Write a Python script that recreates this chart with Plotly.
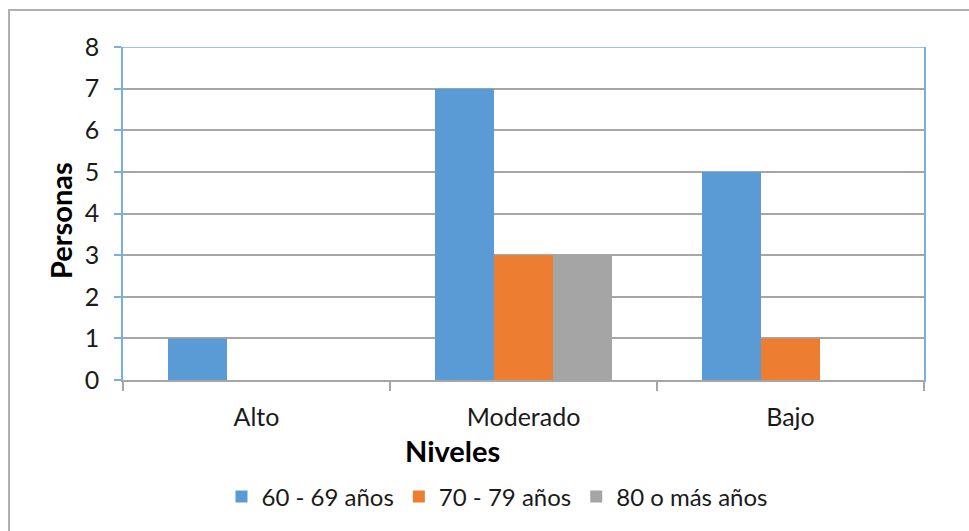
import plotly.graph_objects as go

# Categories and counts per age group
niveles = ["Alto", "Moderado", "Bajo"]
grupos = ["60 - 69 años", "70 - 79 años", "80 o más años"]
valores_60_69 = [1, 7, 5]
valores_70_79 = [0, 3, 1]
valores_80_mas = [0, 3, 0]
colores = ["#5B9BD5", "#ED7D31", "#A5A5A5"]
y_ticks = [0, 1, 2, 3, 4, 5, 6, 7, 8]

FONT = "Lato"
W, H = 969, 531
ML, MR, MT, MB = 123, 45, 47, 151
PW, PH = W - ML - MR, H - MT - MB

fig = go.Figure()
for nombre, vals, col in zip(grupos, [valores_60_69, valores_70_79, valores_80_mas], colores):
    fig.add_trace(go.Bar(x=niveles, y=vals, name=nombre, marker=dict(color=col, line=dict(width=0))))


def px_x(p):
    return (p - ML) / PW


def px_y(p):
    return (H - MB - p) / PH


fig.update_layout(
    width=W, height=H,
    margin=dict(l=ML, r=MR, t=MT, b=MB),
    paper_bgcolor="white", plot_bgcolor="white",
    barmode="group", bargap=0.337, bargroupgap=0,
    font=dict(family=FONT, size=25, color="#1a1a1a"),
    showlegend=True,
    legend=dict(orientation="h", x=px_x(497), xanchor="center", y=px_y(497), yanchor="middle",
                font=dict(size=24), itemwidth=30, traceorder="normal"),
    xaxis=dict(
        showline=True, linecolor="#a6a6a6", linewidth=1.5,
        ticks="outside", tickson="boundaries", ticklen=9, tickcolor="#a6a6a6", tickwidth=1.5,
        showgrid=False, ticklabelstandoff=14,
    ),
    yaxis=dict(
        range=[0, 8], tickvals=y_ticks, showline=True, linecolor="#7aaee0", linewidth=1.5, mirror=True,
        ticks="outside", ticklen=7, tickcolor="#7aaee0", tickwidth=1.5,
        showgrid=True, gridcolor="#a6a6a6", gridwidth=1.5, zeroline=False,
        ticklabelstandoff=10,
    ),
)

# top edge of the plot area
fig.add_shape(type="line", xref="paper", yref="y", x0=0, x1=1, y0=8, y1=8,
              line=dict(color="#7aaee0", width=1.5))

# outer chart frame
fig.add_shape(type="rect", xref="paper", yref="paper",
              x0=px_x(9), x1=px_x(985), y0=px_y(10), y1=px_y(545),
              line=dict(color="#b0b0b0", width=2), layer="below")

# axis titles
fig.add_annotation(text="<b>Niveles</b>", xref="paper", yref="paper",
                   x=px_x(452), y=px_y(450), xanchor="center", yanchor="middle",
                   showarrow=False, font=dict(size=29, color="#000000"))
fig.add_annotation(text="<b>Personas</b>", xref="paper", yref="paper",
                   x=px_x(60), y=px_y(221), xanchor="center", yanchor="middle",
                   showarrow=False, textangle=-90,
                   font=dict(size=29, color="#000000"))

fig.write_html("out.html")
